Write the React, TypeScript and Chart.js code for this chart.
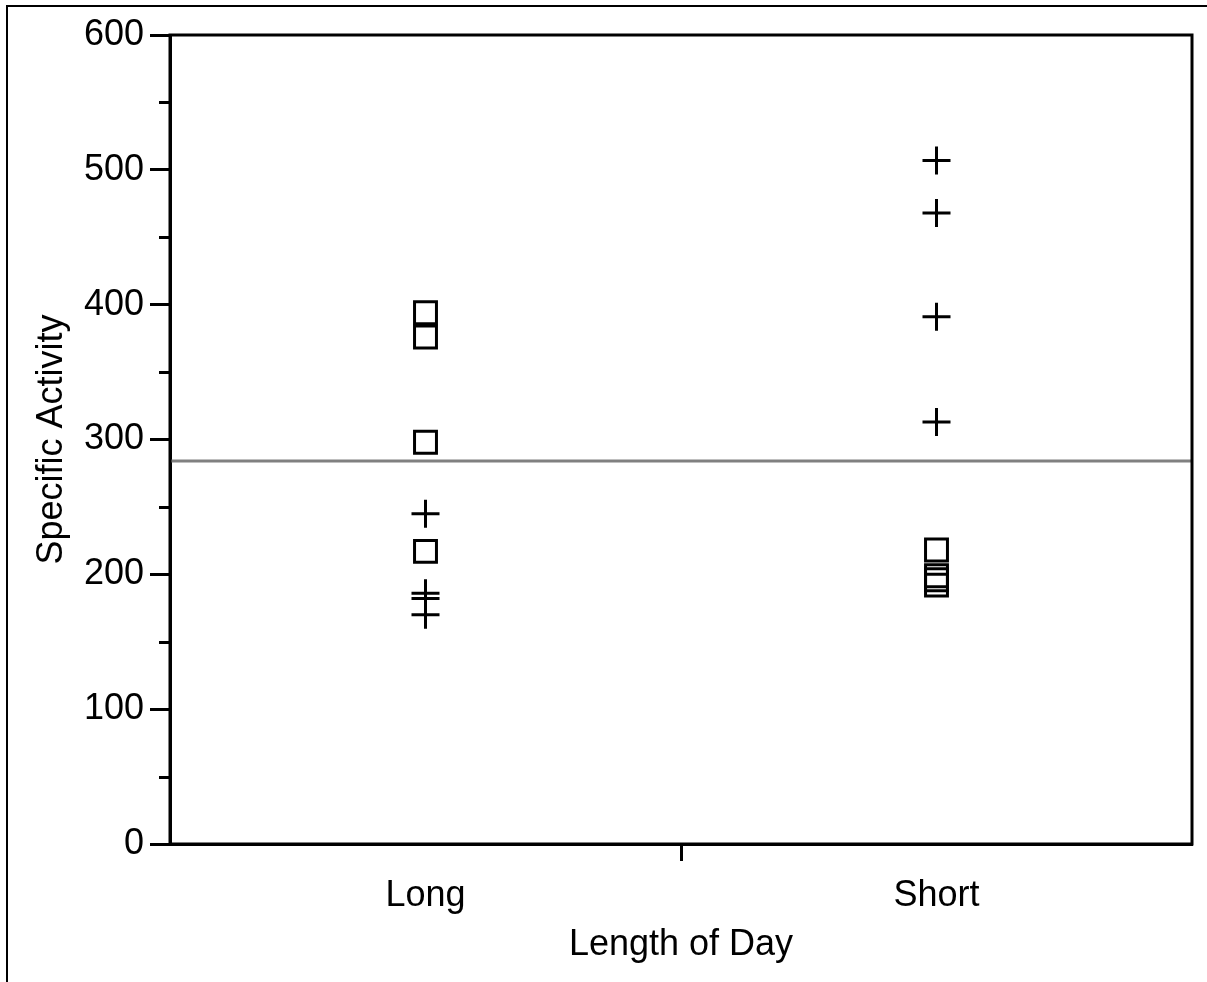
import React, { useEffect, useRef } from 'react';
import { Chart, registerables } from 'chart.js';

Chart.register(...registerables);

const categories = ['Long', 'Short'];
const longSquares = [394, 376, 298, 217];
const longPlus = [245, 186, 182, 170];
const shortPlus = [507, 468, 391, 313];
const shortSquares = [218, 199, 196, 192];
const meanValue = 284;
const yMinorTicks = [50, 150, 250, 350, 450, 550];
const xTitle = 'Length of Day';
const yTitle = 'Specific Activity';

const FONT = "'Liberation Sans', Arial, Helvetica, sans-serif";

const decorPlugin = {
  id: 'decor',
  beforeDatasetsDraw(chart: any) {
    const { ctx, chartArea, scales } = chart;
    const y = scales.y.getPixelForValue(meanValue);
    ctx.save();
    ctx.strokeStyle = 'rgb(128,128,128)';
    ctx.lineWidth = 3;
    ctx.beginPath();
    ctx.moveTo(chartArea.left, y);
    ctx.lineTo(chartArea.right, y);
    ctx.stroke();
    ctx.restore();
  },
  afterDraw(chart: any) {
    const { ctx, chartArea, scales } = chart;
    ctx.save();
    ctx.strokeStyle = '#000';
    ctx.lineWidth = 3;
    ctx.strokeRect(chartArea.left, chartArea.top, chartArea.right - chartArea.left, chartArea.bottom - chartArea.top);
    // minor ticks
    ctx.beginPath();
    for (const v of yMinorTicks) {
      const py = Math.round(scales.y.getPixelForValue(v)) + 0.5;
      ctx.moveTo(chartArea.left, py);
      ctx.lineTo(chartArea.left - 11, py);
    }
    ctx.stroke();
    // outer frame
    ctx.lineWidth = 2;
    ctx.beginPath();
    ctx.moveTo(7, chart.height);
    ctx.lineTo(7, 6);
    ctx.lineTo(chart.width, 6);
    ctx.stroke();
    ctx.restore();
  },
};

export default function App() {
  const ref = useRef<HTMLCanvasElement | null>(null);
  useEffect(() => {
    document.body.style.margin = '0';
    if (!ref.current) return;
    const mk = (vals: number[], cat: string) => vals.map((v) => ({ x: cat, y: v }));
    const common = {
      borderColor: '#000',
      backgroundColor: 'rgba(0,0,0,0)',
      borderWidth: 3,
      showLine: false,
    };
    const chart = new Chart(ref.current, {
      type: 'scatter',
      data: {
        labels: categories,
        datasets: [
          { ...common, label: 'Long squares', data: mk(longSquares, categories[0]), pointStyle: 'rect', pointRadius: 15.5, hoverRadius: 15.5 },
          { ...common, label: 'Long plus', data: mk(longPlus, categories[0]), pointStyle: 'cross', pointRadius: 14, hoverRadius: 14 },
          { ...common, label: 'Short plus', data: mk(shortPlus, categories[1]), pointStyle: 'cross', pointRadius: 14, hoverRadius: 14 },
          { ...common, label: 'Short squares', data: mk(shortSquares, categories[1]), pointStyle: 'rect', pointRadius: 15.5, hoverRadius: 15.5 },
        ] as any,
      },
      options: {
        animation: false,
        responsive: true,
        maintainAspectRatio: false,
        layout: { autoPadding: false, padding: { left: 0, top: 35, right: 15, bottom: 0 } },
        plugins: { legend: { display: false }, tooltip: { enabled: false } },
        scales: {
          x: {
            type: 'category',
            labels: categories,
            offset: true,
            grid: {
              offset: true,
              drawOnChartArea: false,
              tickLength: 17,
              tickWidth: 3,
              tickColor: (c: any) => (c.index === 1 ? '#000' : 'rgba(0,0,0,0)'),
            },
            border: { display: true, color: '#000', width: 3 },
            ticks: { color: '#000', font: { family: FONT, size: 36 }, padding: 13, maxRotation: 0 },
            title: { display: true, text: xTitle, color: '#000', font: { family: FONT, size: 36 }, padding: { top: 0, bottom: 15 } },
            afterFit: (s: any) => { s.height = 138; s.paddingLeft = 0; s.paddingRight = 0; },
          },
          y: {
            type: 'linear',
            min: 0,
            max: 600,
            ticks: {
              stepSize: 50,
              color: '#000',
              font: { family: FONT, size: 36 },
              padding: 6,
              callback: (v: any) => (Number(v) % 100 === 0 ? String(v) : ''),
            },
            grid: {
              drawOnChartArea: false,
              tickLength: 20,
              tickWidth: 3,
              tickColor: (c: any) => (c.tick && c.tick.value % 100 === 0 ? '#000' : 'rgba(0,0,0,0)'),
            },
            border: { display: true, color: '#000', width: 3 },
            title: { display: true, text: yTitle, color: '#000', font: { family: FONT, size: 36 }, padding: { top: 30, bottom: 0 } },
            afterFit: (s: any) => { s.width = 170; },
          },
        },
      } as any,
      plugins: [decorPlugin],
    });
    return () => chart.destroy();
  }, []);
  return (
    <div style={{ position: 'absolute', left: 0, top: 0, width: 1207, height: 982, background: '#fff' }}>
      <canvas ref={ref} />
    </div>
  );
}
